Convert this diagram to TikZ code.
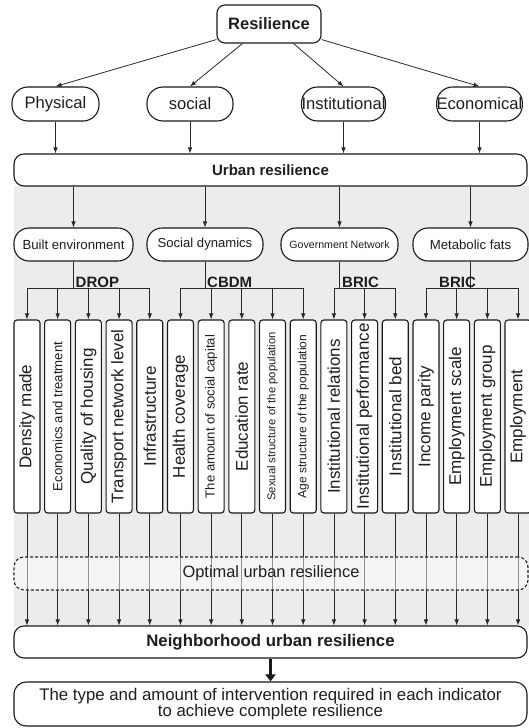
\documentclass[tikz,border=0pt]{standalone}
\usepackage{fontspec}
\setmainfont{Liberation Sans}
\usetikzlibrary{arrows.meta,calc}
\definecolor{panel}{RGB}{236,236,236}
\definecolor{ln}{RGB}{40,40,40}
\definecolor{tx}{RGB}{30,30,30}
\newcommand\fsz[1]{\fontsize{#1}{#1}\selectfont}
\begin{document}
\begin{tikzpicture}[x=1pt,y=-1pt,
  box/.style={draw=black!90, line width=1.1pt, fill=white, text=tx, inner sep=1pt, align=center},
  pill/.style={box, rounded corners=16pt, minimum height=34pt},
  pill2/.style={box, rounded corners=15pt, minimum height=33pt},
  wide/.style={box, rounded corners=10pt, minimum width=513pt, minimum height=32pt},
  colbox/.style={box, rounded corners=3pt, minimum width=26pt, minimum height=193pt, inner sep=0pt},
  arr/.style={-{Latex[length=6pt,width=4.5pt]}, line width=0.8pt, draw=ln},
  ln/.style={line width=0.8pt, draw=ln},
  lab/.style={font=\bfseries\fsz{15}, text=tx, inner sep=0pt, anchor=base west},
  optbox/.style={draw=black!85, line width=1.1pt, dash pattern=on 3pt off 2pt, rounded corners=10pt,
     fill=white, fill opacity=0.5, text opacity=1, text=tx, minimum width=514pt, minimum height=33pt}
]
\useasboundingbox (0,0) rectangle (529,728);
% background panel
\fill[panel] (14,186) rectangle (529,626);

% top level
\node[box, rounded corners=8pt, minimum width=104pt, minimum height=38pt, font=\bfseries\fsz{16.5}] (res) at (269,24) {Resilience};
\node[pill, minimum width=87pt, font=\fsz{16.6}] (phys) at (55.5,104) {Physical};
\node[pill, minimum width=86pt, font=\fsz{16.6}] (soc) at (190,104) {social};
\node[pill, minimum width=83pt, inner xsep=0pt, font=\fsz{16.6}] (inst) at (343.5,104) {Institutional};
\node[pill, minimum width=85pt, inner xsep=0pt, font=\fsz{16.6}] (econ) at (479.5,104) {Economical};

\draw[arr] ([yshift=4pt]res.south west) -- (phys.north);
\draw[arr] ([xshift=26pt]res.south west) -- (soc.north);
\draw[arr] ([xshift=-28pt]res.south east) -- (inst.north);
\draw[arr] ([yshift=4pt]res.south east) -- (econ.north);

\node[wide, font=\bfseries\fsz{15}] (urb) at (270.5,170) {Urban resilience};
\foreach \n in {phys,soc,inst,econ}
  \draw[arr] (\n.south) -- (\n.south |- urb.north);

% second level
\node[pill2, minimum width=119pt, font=\fsz{13.2}] (be) at (73.5,244.5) {Built environment};
\node[pill2, minimum width=116pt, font=\fsz{13.1}] (sd) at (205,244.5) {Social dynamics};
\node[pill2, minimum width=117pt, font=\fsz{10.6}] (gn) at (339.5,244.5) {Government Network};
\node[pill2, minimum width=115pt, font=\fsz{13.2}] (mf) at (470.5,244.5) {Metabolic fats};
\foreach \n in {be,sd,gn,mf}
  \draw[arr] (\n.north |- urb.south) -- (\n.north);

\coordinate (barL) at (0,288);

% neighborhood box (needed for column arrows)
\node[wide, font=\bfseries\fsz{16.8}] (nb) at (270.5,642) {Neighborhood urban resilience};

% columns
\foreach \i/\s/\t in {1/17/Density made, 2/13.2/Economics and treatment, 3/17/Quality of housing,
  4/16.8/Transport network level, 5/17/Infrastructure, 6/16.9/Health coverage,
  7/13.1/The amount of social capital, 8/17/Education rate, 9/11.3/Sexual structure of the population,
  10/12/Age structure of the population, 11/17/Institutional relations, 12/17/Institutional performance,
  13/17/Institutional bed, 14/17/Income parity, 15/17/Employment scale, 16/17/Employment group, 17/17/Employment}{
  \pgfmathsetmacro\x{27+30.69*(\i-1)}
  \node[colbox] (c\i) at (\x,416.5) {\rotatebox{90}{\fsz{\s}\t}};
  \draw[arr] (c\i.north |- barL) -- (c\i.north);
  \draw[arr] (c\i.south) -- (c\i.south |- nb.north);
}

% bars
\draw[ln] (c1.north |- barL) -- (c5.north |- barL);
\draw[ln] (c6.north |- barL) -- (c10.north |- barL);
\draw[ln] (c11.north |- barL) -- (c13.north |- barL);
\draw[ln] (c14.north |- barL) -- (c17.north |- barL);
\foreach \n in {be,sd,gn,mf}
  \draw[ln] (\n.south) -- (\n.south |- barL);

\node[lab] (ldrop) at (75.5,287.5) {DROP};
\node[lab] (lcbdm) at (207,287.5) {CBDM};
\node[lab] (lbric1) at (342,287.5) {BRIC};
\node[lab] (lbric2) at (439,287.5) {BRIC};

% optimal
\node[optbox, font=\fsz{16.4}] (opt) at (271,573.5) {Optimal urban resilience};

% final
\node[box, rounded corners=12pt, minimum width=513pt, minimum height=44pt, font=\fsz{16.8}, align=center] (fin) at (270.5,704)
  {The type and amount of intervention required in each indicator\\[-1pt]to achieve complete resilience};
\draw[line width=2.4pt, draw=black!90, -{Triangle[length=7pt,width=10pt]}] (nb.south) -- (fin.north);
\end{tikzpicture}
\end{document}
